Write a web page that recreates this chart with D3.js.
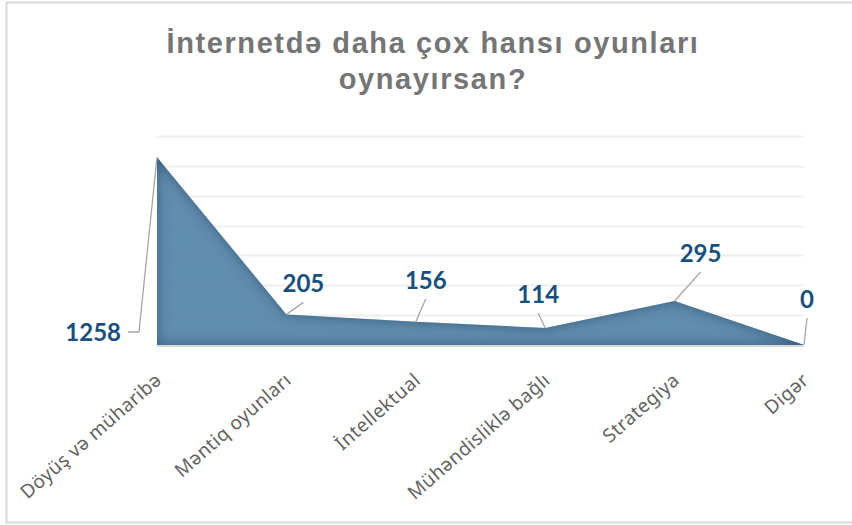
<!DOCTYPE html>
<html>
<head>
<meta charset="utf-8">
<script src="https://cdn.jsdelivr.net/npm/d3@7"></script>
<style>
body { margin: 0; background: #fff; }
svg { display: block; }
</style>
</head>
<body>
<div id="chart"></div>
<script>
// data
var categories = ["Döyüş və müharibə", "Məntiq oyunları", "İntellektual", "Mühəndisliklə bağlı", "Strategiya", "Digər"];
var values = [1258, 205, 156, 114, 295, 0];
var gridTicks = [200, 400, 600, 800, 1000, 1200, 1400];
var titleLines = ["İnternetdə daha çox hansı oyunları", "oynayırsan?"];
// label offsets (dx, dy from the point to label baseline)
var labelOffsets = [[-63, 183], [17, -22], [10, -33], [-7, -25], [26, -39], [3, -37]];

var w = 852, h = 525;
var plot = {left: 157, right: 804, top: 136, bottom: 345};

var svg = d3.select("#chart").append("svg")
  .attr("width", w)
  .attr("height", h);

var defs = svg.append("defs");
var f = defs.append("filter").attr("id", "inner")
  .attr("x", "-5%").attr("y", "-5%").attr("width", "110%").attr("height", "110%");
f.append("feComponentTransfer").attr("in", "SourceAlpha").attr("result", "inv")
  .append("feFuncA").attr("type", "table").attr("tableValues", "1 0");
f.append("feGaussianBlur").attr("in", "inv").attr("stdDeviation", 7).attr("result", "blur");
f.append("feFlood").attr("flood-color", "#1f4a6c").attr("flood-opacity", 0.9).attr("result", "col");
f.append("feComposite").attr("in", "col").attr("in2", "blur").attr("operator", "in").attr("result", "sh");
f.append("feComposite").attr("in", "sh").attr("in2", "SourceAlpha").attr("operator", "in").attr("result", "sh2");
var m = f.append("feMerge");
m.append("feMergeNode").attr("in", "SourceGraphic");
m.append("feMergeNode").attr("in", "sh2");

// chart frame
svg.append("path")
  .attr("d", "M" + (w + 5) + ",2.5 H6.5 V522.5 H" + (w + 5))
  .attr("fill", "none")
  .attr("stroke", "#d9d9d9")
  .attr("stroke-width", 2);

var x = d3.scalePoint()
  .domain(categories)
  .range([plot.left, plot.right]);

var y = d3.scaleLinear()
  .domain([0, 1400])
  .range([plot.bottom, plot.top]);

// gridlines
svg.append("g")
  .selectAll("line")
  .data(gridTicks)
  .enter()
  .append("line")
  .attr("x1", plot.left)
  .attr("x2", plot.right)
  .attr("y1", function(d) { return Math.round(y(d)) + 0.5; })
  .attr("y2", function(d) { return Math.round(y(d)) + 0.5; })
  .attr("stroke", "#efefef")
  .attr("stroke-width", 2);

var area = d3.area()
  .x(function(d, i) { return x(categories[i]); })
  .y0(y(0))
  .y1(function(d) { return y(d); });

svg.append("path")
  .datum(values)
  .attr("d", area)
  .attr("fill", "#5b88ab")
  .attr("fill-opacity", 0.94)
  .attr("filter", "url(#inner)");

// baseline
svg.append("line")
  .attr("x1", plot.left)
  .attr("x2", plot.right)
  .attr("y1", plot.bottom + 1)
  .attr("y2", plot.bottom + 1)
  .attr("stroke", "#d9d9d9")
  .attr("stroke-width", 2);

// leader lines + data labels
var lab = svg.append("g");
values.forEach(function(v, i) {
  var px = x(categories[i]), py = y(v);
  var o = labelOffsets[i];
  var lx = px + o[0], ly = py + o[1];
  if (i == 0) {
    lab.append("polyline")
      .attr("points", [[128, 332], [139, 332], [px, py]].join(" "))
      .attr("fill", "none").attr("stroke", "#a6a6a6").attr("stroke-width", 1.3);
    lab.append("text")
      .attr("x", 121).attr("y", 332)
      .attr("dy", "0.36em")
      .attr("text-anchor", "end")
      .text(v);
  } else {
    lab.append("line")
      .attr("x1", px).attr("y1", py)
      .attr("x2", lx).attr("y2", ly + 10)
      .attr("stroke", "#a6a6a6").attr("stroke-width", 1.3);
    lab.append("text")
      .attr("x", lx).attr("y", ly)
      .attr("text-anchor", "middle")
      .text(v);
  }
});
lab.selectAll("text")
  .attr("font-family", "Lato, 'Open Sans', sans-serif")
  .attr("font-weight", "bold")
  .attr("font-size", 24)
  .attr("fill", "#17507f");

// category labels
svg.append("g")
  .selectAll("text")
  .data(categories)
  .enter()
  .append("text")
  .attr("transform", function(d) { return "translate(" + (x(d) + 6) + "," + 382 + ") rotate(-41)"; })
  .attr("text-anchor", "end")
  .attr("font-family", "'Noto Sans', 'Open Sans', sans-serif")
  .attr("font-size", 19)
  .attr("letter-spacing", 0.4)
  .attr("fill", "#636363")
  .text(function(d) { return d; });

// title
svg.append("g")
  .selectAll("text")
  .data(titleLines)
  .enter()
  .append("text")
  .attr("x", 433)
  .attr("y", function(d, i) { return 53 + i * 36; })
  .attr("text-anchor", "middle")
  .attr("font-family", "'Liberation Sans', Arial, sans-serif")
  .attr("font-weight", "bold")
  .attr("font-size", 29)
  .attr("letter-spacing", 1.6)
  .attr("fill", "#757575")
  .text(function(d) { return d; });
</script>
</body>
</html>
